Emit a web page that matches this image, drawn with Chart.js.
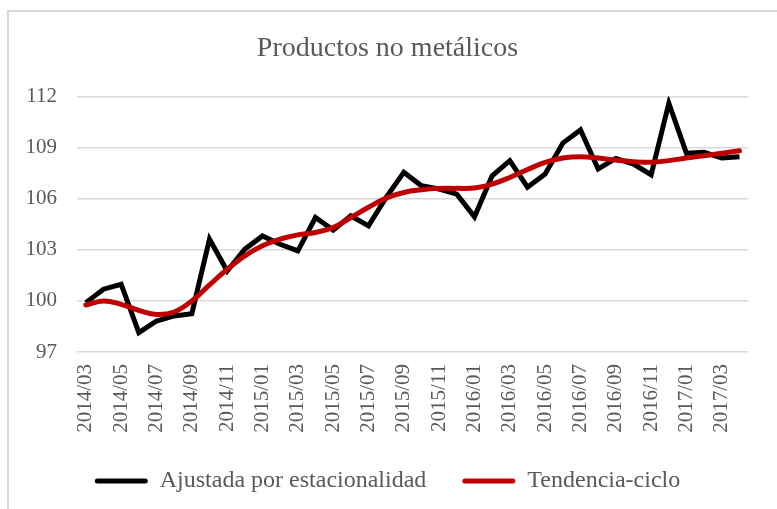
<!DOCTYPE html>
<html>
<head>
<meta charset="utf-8">
<script src="https://cdn.jsdelivr.net/npm/chart.js@4.4.1/dist/chart.umd.min.js"></script>
<style>
  html, body { margin: 0; padding: 0; background: #ffffff; overflow: hidden; }
  #wrap { position: relative; width: 777px; height: 509px; }
  #frame { position: absolute; left: 7px; top: 10px; width: 900px; height: 700px; border: 2px solid #d9d9d9; }
  #myChart { position: absolute; left: 0; top: 0; }
</style>
</head>
<body>
<div id="wrap">
  <div id="frame"></div>
  <canvas id="myChart" width="777" height="509"></canvas>
</div>
<script>
//Chart data
const months = ["2014/03","2014/04","2014/05","2014/06","2014/07","2014/08","2014/09","2014/10","2014/11","2014/12",
  "2015/01","2015/02","2015/03","2015/04","2015/05","2015/06","2015/07","2015/08","2015/09","2015/10","2015/11","2015/12",
  "2016/01","2016/02","2016/03","2016/04","2016/05","2016/06","2016/07","2016/08","2016/09","2016/10","2016/11","2016/12",
  "2017/01","2017/02","2017/03","2017/04"];
const ajustada = [99.9, 100.69, 100.98, 98.14, 98.82, 99.12, 99.25, 103.63, 101.76, 103.04,
  103.82, 103.33, 102.94, 104.9, 104.16, 105.0, 104.41, 106.08, 107.55, 106.76, 106.57, 106.27,
  104.94, 107.35, 108.24, 106.68, 107.45, 109.27, 110.04, 107.75, 108.37, 108.04, 107.41, 111.61,
  108.67, 108.73, 108.39, 108.47];
const tendencia = [99.76, 100.0, 99.8, 99.45, 99.2, 99.35, 100.0, 100.94, 101.86, 102.65,
  103.24, 103.63, 103.88, 104.02, 104.31, 104.9, 105.5, 106.04, 106.37, 106.53, 106.61, 106.61,
  106.63, 106.86, 107.25, 107.72, 108.13, 108.39, 108.47, 108.39, 108.27, 108.18, 108.14, 108.24,
  108.39, 108.53, 108.67, 108.82];
const yTicks = [97, 100, 103, 106, 109, 112];
const seriesNames = ["Ajustada por estacionalidad", "Tendencia-ciclo"];
const titleText = "Productos no metálicos";

const textColor = "#595959";
const fontFamily = "'Liberation Serif', 'Times New Roman', serif";
const ctx = document.getElementById("myChart");

const myChart = new Chart(ctx, {
  type: "line",
  data: {
    labels: months,
    datasets: [
      {
        label: seriesNames[0],
        data: ajustada,
        borderColor: "#000000",
        backgroundColor: "#000000",
        borderWidth: 5,
        pointRadius: 0,
        tension: 0,
        order: 2
      },
      {
        label: seriesNames[1],
        data: tendencia,
        borderColor: "#c00000",
        backgroundColor: "#c00000",
        borderWidth: 5,
        pointRadius: 0,
        tension: 0.4,
        borderCapStyle: "round",
        order: 1
      }
    ]
  },
  options: {
    responsive: false,
    animation: false,
    layout: { padding: { left: 22, right: 24, top: 0, bottom: 6 } },
    plugins: {
      tooltip: { enabled: false },
      title: {
        display: true,
        text: titleText,
        color: textColor,
        font: { family: fontFamily, size: 28, weight: "normal" },
        padding: { top: 32, bottom: 31 }
      },
      legend: {
        position: "bottom",
        labels: {
          color: textColor,
          font: { family: fontFamily, size: 24 },
          boxWidth: 53,
          boxHeight: 5,
          padding: 36,
          useBorderRadius: true,
          borderRadius: 2.5,
          //keep legend in dataset order, not draw order
          generateLabels: function(chart) {
            return chart.data.datasets.map((ds, i) => ({
              text: ds.label,
              fillStyle: ds.borderColor,
              strokeStyle: ds.borderColor,
              lineWidth: 0,
              fontColor: textColor,
              datasetIndex: i,
              borderRadius: 2.5
            }));
          }
        }
      }
    },
    scales: {
      x: {
        offset: true,
        grid: { display: false, drawTicks: false },
        border: { display: false },
        ticks: {
          autoSkip: false,
          maxRotation: 90,
          minRotation: 90,
          padding: 12,
          color: textColor,
          font: { family: fontFamily, size: 21 },
          callback: function(value, index) {
            return index % 2 === 0 ? months[index] : "";
          }
        },
        afterFit: function(scale) { scale.height = 81; }
      },
      y: {
        min: yTicks[0],
        max: yTicks[yTicks.length - 1],
        afterBuildTicks: function(scale) {
          scale.ticks = yTicks.map(v => ({ value: v }));
        },
        grid: { color: "#d9d9d9", lineWidth: 1.5, drawTicks: false },
        border: { display: false },
        ticks: {
          padding: 20,
          color: textColor,
          font: { family: fontFamily, size: 21 }
        },
        afterFit: function(scale) { scale.width = 55; }
      }
    }
  }
});
</script>
</body>
</html>
